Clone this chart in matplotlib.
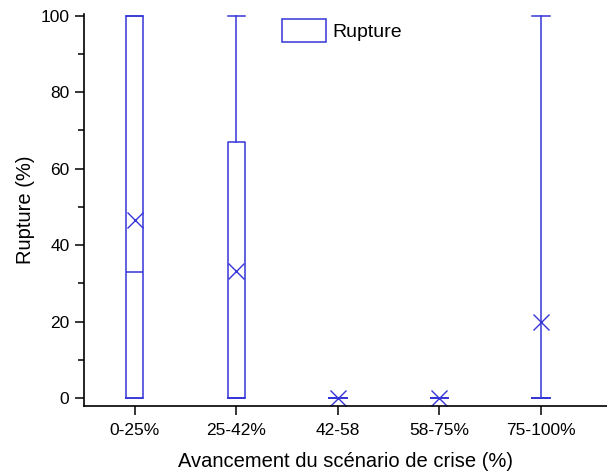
import matplotlib.pyplot as plt
from matplotlib.patches import Rectangle
from matplotlib.ticker import MultipleLocator

plt.rcParams['font.family'] = ['Liberation Sans', 'DejaVu Sans']

categories = ['0-25%', '25-42%', '42-58', '58-75%', '75-100%']
whis_low = [0, 0, 0, 0, 0]
q1 = [0, 0, 0, 0, 0]
medians = [33, 0, 0, 0, 0]
q3 = [100, 67, 0, 0, 0]
whis_high = [100, 100, 0, 0, 100]
means = [46.5, 33.3, 0, 0, 20]

blue = '#3535d8'

stats = []
for i, name in enumerate(categories):
    stats.append(dict(label=name, whislo=whis_low[i], q1=q1[i], med=medians[i],
                      q3=q3[i], whishi=whis_high[i], mean=means[i]))

fig = plt.figure(figsize=(6.07, 4.73), dpi=100)
ax = fig.add_axes([0.1384, 0.1416, 0.8616, 0.829])

pos = list(range(1, len(categories) + 1))
ax.bxp(stats, positions=pos, widths=0.17, showmeans=True, showfliers=False,
       boxprops=dict(color=blue, linewidth=1.1),
       medianprops=dict(color=blue, linewidth=1.1),
       whiskerprops=dict(color=blue, linewidth=1.1),
       capprops=dict(color=blue, linewidth=1.1),
       capwidths=0.17,
       meanprops=dict(marker='x', markeredgecolor=blue, markersize=11,
                      markeredgewidth=1.0, linestyle='none'))

ax.set_xlim(0.5, 5.65)
ax.set_ylim(-2.1, 100.5)
ax.set_xticks(pos)
ax.set_xticklabels(categories)
ax.yaxis.set_major_locator(MultipleLocator(20))
ax.yaxis.set_minor_locator(MultipleLocator(10))
ax.tick_params(axis='both', which='major', direction='out', length=6.5, width=1.1, labelsize=12.5)
ax.tick_params(axis='x', which='major', pad=6)
ax.tick_params(axis='y', which='major', pad=4)
ax.tick_params(axis='y', which='minor', direction='out', length=4, width=1.1)
for s in ['top', 'right']:
    ax.spines[s].set_visible(False)
for s in ['left', 'bottom']:
    ax.spines[s].set_linewidth(1.2)

ax.set_xlabel('Avancement du scénario de crise (%)', fontsize=14.5, labelpad=10)
ax.set_ylabel('Rupture (%)', fontsize=14.5, labelpad=4)

handle = Rectangle((0, 0), 1, 1, facecolor='white', edgecolor=blue, linewidth=1.1)
ax.legend([handle], ['Rupture'], loc='upper left', bbox_to_anchor=(0.357, 1.016),
          frameon=False, fontsize=14, handlelength=2.25, handleheight=1.4,
          borderaxespad=0.2, handletextpad=0.3)

fig.savefig('out.png', dpi=100)
